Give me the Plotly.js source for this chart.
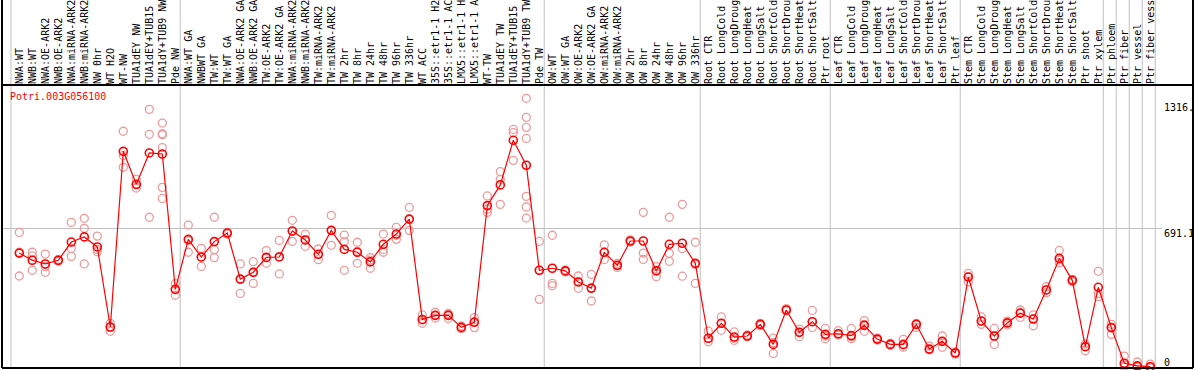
<!DOCTYPE html>
<html>
<head>
<meta charset="utf-8">
<script src="https://cdn.plot.ly/plotly-3.0.1.min.js"></script>
<style>
html,body{margin:0;padding:0;background:#fff;}
#chart{width:1194px;height:370px;}
</style>
</head>
<body>
<div id="chart"></div>
<script>
const geneName = "Potri.003G056100";

const categories = [
  "NWA:WT","NWB:WT","NWA:OE-ARK2","NWB:OE-ARK2","NWA:miRNA-ARK2","NWB:miRNA-ARK2","NW 0hr","WT H2O","WT-NW","TUA1dEY NW","TUA1dEY+TUB15","TUA1dY+TUB9 NW","Pde NW",
  "NWA:WT GA","NWBWT GA","TW:WT","TW:WT GA","NWA:OE-ARK2 GA","NWB:OE-ARK2 GA","TW:OE-ARK2","TW:OE-ARK2 GA","NWA:miRNA-ARK2","NWB:miRNA-ARK2","TW:miRNA-ARK2","TW:miRNA-ARK2","TW 2hr","TW 8hr","TW 24hr","TW 48hr","TW 96hr","TW 336hr","WT ACC","35S::etr1-1 H2","35S::etr1-1 AC","LMX5::etr1-1 H","LMX5::etr1-1 A","WT-TW","TUA1dEY TW","TUA1dEY+TUB15","TUA1dY+TUB9 TW","Pde TW",
  "OW:WT","OW:WT GA","OW:OE-ARK2","OW:OE-ARK2 GA","OW:miRNA-ARK2","OW:miRNA-ARK2","OW 2hr","OW 8hr","OW 24hr","OW 48hr","OW 96hr","OW 336hr",
  "Root CTR","Root LongCold","Root LongDroug","Root LongHeat","Root LongSalt","Root ShortCold","Root ShortDrou","Root ShortHeat","Root ShortSalt","Ptr root",
  "Leaf CTR","Leaf LongCold","Leaf LongDroug","Leaf LongHeat","Leaf LongSalt","Leaf ShortCold","Leaf ShortDrou","Leaf ShortHeat","Leaf ShortSalt","Ptr leaf",
  "Stem CTR","Stem LongCold","Stem LongDroug","Stem LongHeat","Stem LongSalt","Stem ShortCold","Stem ShortDrou","Stem ShortHeat","Stem ShortSalt","Ptr shoot","Ptr xylem",
  "Ptr phloem","Ptr fiber","Ptr vessel","Ptr fiber vess"
];

const means = [
  571,536,518,536,625,650,601,210,1068,907,
  1060,1055,394,638,552,627,669,444,477,550,
  552,679,635,565,682,589,575,528,614,664,
  737,247,267,267,208,233,803,904,1122,1000,
  487,497,484,430,400,575,511,630,630,484,
  614,619,521,155,228,161,166,223,125,293,
  184,236,174,177,168,218,151,125,125,223,
  102,140,83,454,239,166,230,278,249,391,
  545,438,114,404,207,33,20,16
];

const replicates = [
  [672,575,459],[575,557,487],[566,505,477],[540,536,531],[721,594,555],
  [741,692,518],[654,589,578],[228,208,189],[1166,1048,990],[931,904,889],
  [1273,1151,746],[1206,1154,1149,1086,892,838],[422,394,365],[708,575,632],[594,552,506],
  [746,588,549],[672,669,664],[518,374,443],[529,423,479],[583,549,521],
  [633,469,554],[731,628,677],[664,635,604],[591,539,565],[755,609,682],
  [659,627,487],[624,521,580],[549,497,537],[664,589,575],[697,638,658],
  [794,682,736],[269,228,244],[282,254,267],[277,252,272],[215,202,208],
  [256,207,236],[850,785,770],[969,931,809],[1175,1159,1024],[1327,1234,1185,1131,848,796,742],
  [628,345,487],[658,423,412],[488,479,484],[459,399,430],[467,337,397],
  [611,540,575],[521,501,511],[635,625,630],[770,571,540],[505,456,488],
  [746,570,531],[809,593,458],[624,423,516],[190,138,155],[259,194,228],
  [186,145,155],[171,163,166],[228,218,223],[156,81,133],[300,290,293],
  [200,163,184],[291,208,236],[203,153,166],[192,171,177],[203,153,163],
  [241,189,223],[156,146,151],[130,120,125],[150,111,122],[228,208,223],
  [117,98,102],[166,111,140],[88,78,83],[472,431,456],[259,223,239],
  [203,125,166],[239,220,230],[293,257,278],[269,216,249],[407,378,391],
  [584,524,537],[443,431,438],[127,94,114],[482,358,374],[223,174,208],
  [68,16,24],[39,13,16],[29,10,16]
];

// group separators (in category-index units)
const separators = [-0.64, 12.38, 40.38, 52.38, 62.38, 72.38, 83.38, 84.38, 85.38, 86.38, 87.38];
const yTickValues = [1316, 691.1, 0];
const yTickLabels = ["1316.", "691.1", "0"];

const idx = categories.map((_, i) => i);
const repX = [], repY = [];
replicates.forEach((arr, i) => arr.forEach(v => { repX.push(i); repY.push(v); }));

const W = 1194, H = 370;
const mL = 2, mR = 1, mT = 85, mB = 2;
const plotH = H - mT - mB;
const plotW = W - mL - mR;

const mono = "DejaVu Sans Mono, Liberation Mono, monospace";

const traces = [
  {
    x: repX, y: repY, type: "scatter", mode: "markers",
    marker: {symbol: "circle-open", size: 8, color: "#ee9a9a", line: {width: 1.3}},
    hoverinfo: "skip", showlegend: false, cliponaxis: false
  },
  {
    x: idx, y: means, type: "scatter", mode: "lines+markers",
    line: {color: "#ff0000", width: 1.2},
    marker: {symbol: "circle-open", size: 8, color: "#ff0000", line: {width: 1.6}},
    showlegend: false, cliponaxis: false
  }
];

const shapes = [];
separators.forEach(s => shapes.push({
  type: "line", xref: "x", yref: "paper", x0: s, x1: s, y0: 0, y1: 1 + mT / plotH,
  line: {color: "#c0c0c0", width: 1}, layer: "below"
}));
// horizontal mid gridline
shapes.push({
  type: "line", xref: "paper", yref: "y", x0: 0, x1: (1162 - mL) / plotW, y0: yTickValues[1], y1: yTickValues[1],
  line: {color: "#c0c0c0", width: 1}, layer: "below"
});
// frame
const black = {color: "#000", width: 2};
shapes.push({type: "line", xref: "paper", yref: "paper", x0: 0, x1: 1, y0: 1, y1: 1, line: black});
shapes.push({type: "line", xref: "paper", yref: "paper", x0: 0, x1: 1, y0: 0, y1: 0, line: black});
shapes.push({type: "line", xref: "paper", yref: "paper", x0: 0, x1: 0, y0: 0, y1: 1 + mT / plotH, line: black});
shapes.push({type: "line", xref: "paper", yref: "paper", x0: 1, x1: 1, y0: 0, y1: 1 + mT / plotH, line: black});

// y label pixel centres (from the reference)
const yLabelPix = [107.5, 233, 362];
const annotations = yTickLabels.map((t, k) => ({
  text: t, xref: "paper", yref: "paper",
  x: (1162 - mL) / plotW, y: 1 - (yLabelPix[k] - mT) / plotH,
  xanchor: "left", yanchor: "middle", showarrow: false,
  font: {family: mono, size: 10, color: "#000"}
}));

const layout = {
  width: W, height: H,
  margin: {l: mL, r: mR, t: mT, b: mB, pad: 0},
  paper_bgcolor: "#fff", plot_bgcolor: "#fff",
  title: {
    text: geneName, x: 10 / W, xanchor: "left", xref: "paper",
    y: 1 - 96.5 / H, yanchor: "middle", yref: "container",
    font: {family: mono, size: 10, color: "#ff0000"}
  },
  xaxis: {
    type: "linear", range: [(mL - 19.3) / 13, (W - mR - 19.3) / 13],
    side: "top", tickmode: "array", tickvals: idx, ticktext: categories,
    tickangle: -90, ticks: "", showgrid: false, zeroline: false, showline: false,
    tickfont: {family: mono, size: 10, color: "#000"}, automargin: false, fixedrange: true
  },
  yaxis: {
    range: [(370 - (H - mB)) * 4.884, (370 - mT) * 4.884],
    showgrid: false, zeroline: false, showticklabels: false, showline: false, ticks: "",
    fixedrange: true
  },
  shapes: shapes,
  annotations: annotations,
  showlegend: false
};
layout.title.x = 10 / W;
layout.title.xref = "container";

Plotly.newPlot("chart", traces, layout, {staticPlot: true, displayModeBar: false});
</script>
</body>
</html>
